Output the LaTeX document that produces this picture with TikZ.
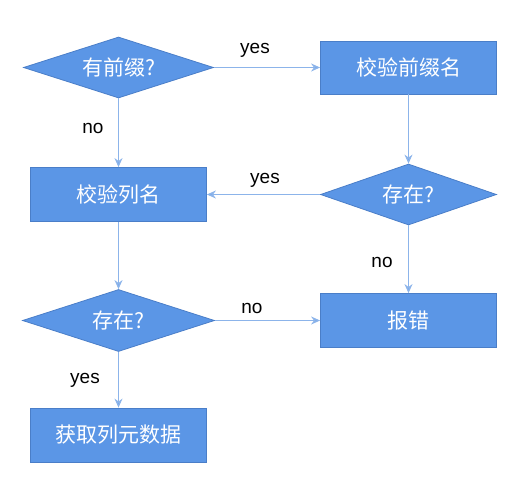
\documentclass[tikz,border=0pt]{standalone}
\usepackage{fontspec}
\setmainfont{Liberation Sans}
\newfontfamily\cjk{Noto Sans CJK SC}
\usetikzlibrary{shapes.geometric,arrows.meta}
\definecolor{boxfill}{HTML}{5B96E6}
\definecolor{boxedge}{HTML}{4A7EC8}
\definecolor{linkcol}{HTML}{8CB4EA}
\tikzset{
  stepbox/.style={rectangle, draw=boxedge, fill=boxfill, text=white, line width=0.8pt,
    minimum width=176pt, minimum height=54pt, inner sep=0pt,
    font=\cjk\fontsize{21}{25}\selectfont},
  testbox/.style={diamond, shape aspect=3.1, draw=boxedge, fill=boxfill, text=white, line width=0.8pt,
    minimum width=190pt, minimum height=61pt, inner sep=0pt,
    font=\cjk\fontsize{21}{25}\selectfont},
  link/.style={draw=linkcol, line width=1.2pt, -{Stealth[length=9pt,width=8pt,fill=boxfill!85]}},
  tag/.style={font=\fontsize{19}{22}\selectfont, text=black}
}
\begin{document}
\begin{tikzpicture}[x=1pt,y=-1pt]
\useasboundingbox (0,0) rectangle (522,484);
% decisions and steps
\node[testbox] (hasprefix) at (118.5,67.5) {有前缀?};
\node[stepbox, minimum height=53pt] (checkprefix) at (408.5,67.5) {校验前缀名};
\node[stepbox] (checkcol) at (118.5,194.5) {校验列名};
\node[testbox, minimum width=176pt] (prefixok) at (408.5,194.5) {存在?};
\node[testbox, minimum width=192pt, minimum height=62pt] (colok) at (118.5,320.5) {存在?};
\node[stepbox] (raise) at (408.5,320.5) {报错};
\node[stepbox] (fetch) at (118.5,435) {获取列元数据};

% connectors
\draw[link] (hasprefix.east) -- (checkprefix.west);
\draw[link] (hasprefix.south) -- (checkcol.north);
\draw[link] (checkprefix.south) -- (prefixok.north);
\draw[link] (prefixok.west) -- (checkcol.east);
\draw[link] (checkcol.south) -- (colok.north);
\draw[link] (prefixok.south) -- (raise.north);
\draw[link] (colok.east) -- (raise.west);
\draw[link] (colok.south) -- (fetch.north);

% labels
\node[tag] (yes1) at (255,50) {yes};
\node[tag] (no1) at (93,128) {no};
\node[tag] (yes2) at (265,180) {yes};
\node[tag] (no2) at (382,262) {no};
\node[tag] (no3) at (252,308) {no};
\node[tag] (yes3) at (85,380) {yes};
\end{tikzpicture}
\end{document}
